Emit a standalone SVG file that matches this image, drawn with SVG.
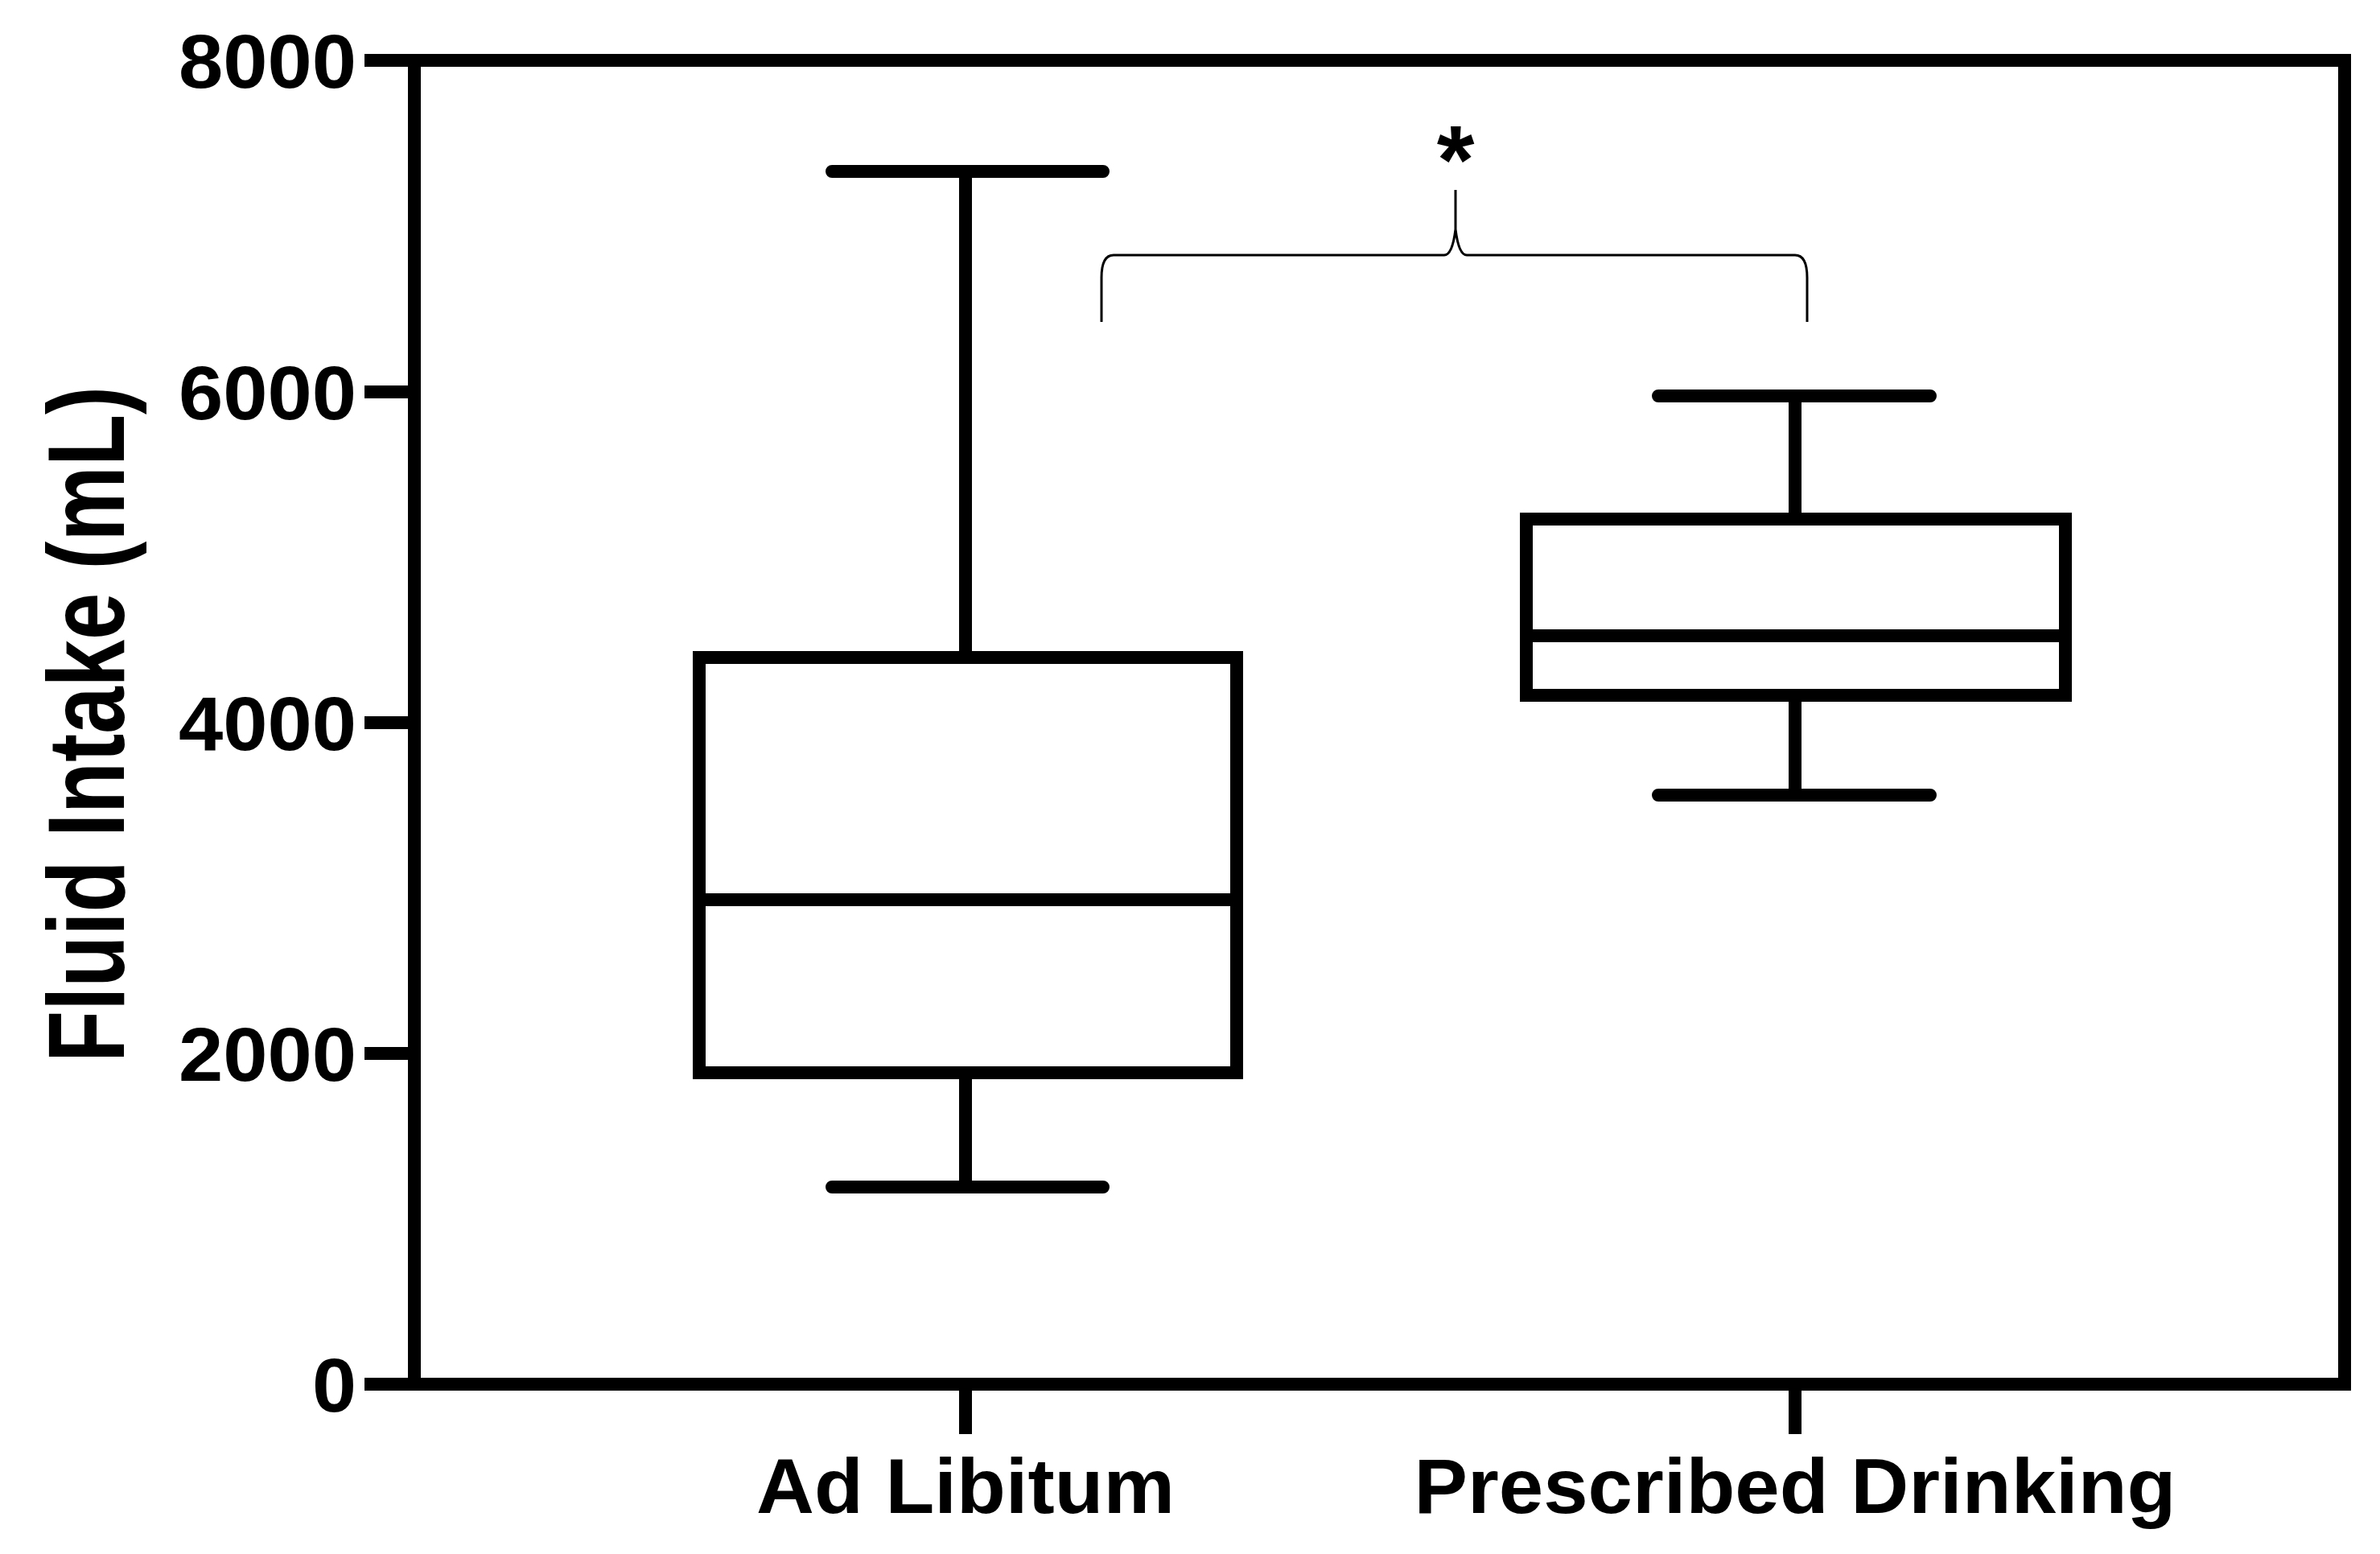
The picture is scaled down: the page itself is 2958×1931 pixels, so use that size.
<svg xmlns="http://www.w3.org/2000/svg" width="2958" height="1931" viewBox="0 0 2958 1931">
<style>
.t{font-family:"Liberation Sans",Arial,sans-serif;font-weight:bold;fill:#000}
.k{stroke:#000;stroke-width:16;fill:none}
.w{stroke:#000;stroke-width:16;fill:none;stroke-linecap:round}
</style>
<rect width="2958" height="1931" fill="#fff"/>
<g id="axes">
<path class="k" d="M515,75 H2914 V1720 H515 Z"/>
<path class="k" d="M453,75H515M453,487H515M453,898H515M453,1309H515M453,1720H515M1200,1720V1782M2231,1720V1782"/>
<g class="t" font-size="95" text-anchor="end">
<text x="443" y="109" textLength="221" lengthAdjust="spacingAndGlyphs">8000</text>
<text x="443" y="521" textLength="221" lengthAdjust="spacingAndGlyphs">6000</text>
<text x="443" y="932" textLength="221" lengthAdjust="spacingAndGlyphs">4000</text>
<text x="443" y="1343" textLength="221" lengthAdjust="spacingAndGlyphs">2000</text>
<text x="443" y="1754" textLength="55" lengthAdjust="spacingAndGlyphs">0</text>
</g>
<text class="t" font-size="135" text-anchor="middle" transform="translate(154,900) rotate(-90)" textLength="840" lengthAdjust="spacingAndGlyphs">Fluid Intake (mL)</text>
<text class="t" font-size="97" x="1200" y="1880" text-anchor="middle" textLength="520" lengthAdjust="spacingAndGlyphs">Ad Libitum</text>
<text class="t" font-size="97" x="2231" y="1880" text-anchor="middle" textLength="947" lengthAdjust="spacingAndGlyphs">Prescribed Drinking</text>
</g>
<g id="ad-libitum">
<rect class="k" x="869" y="817" width="668" height="516"/>
<path class="k" d="M869,1118H1537M1200,213V817M1200,1333V1475"/>
<path class="w" d="M1034,213H1371M1034,1475H1371"/>
</g>
<g id="prescribed">
<rect class="k" x="1897" y="645" width="670" height="219"/>
<path class="k" d="M1897,790H2567M2231,492V645M2231,864V988"/>
<path class="w" d="M2061,492H2399M2061,988H2399"/>
</g>
<g id="connectors">
<path d="M1369,400 V345 Q1369,317 1384,317 H1795 Q1805,317 1809,285 V236 M1809,285 Q1813,317 1823,317 H2231 Q2246,317 2246,345 V400" stroke="#000" stroke-width="3" fill="none"/>
<text class="t" font-size="120" x="1809" y="240" text-anchor="middle">*</text>
</g>
</svg>
